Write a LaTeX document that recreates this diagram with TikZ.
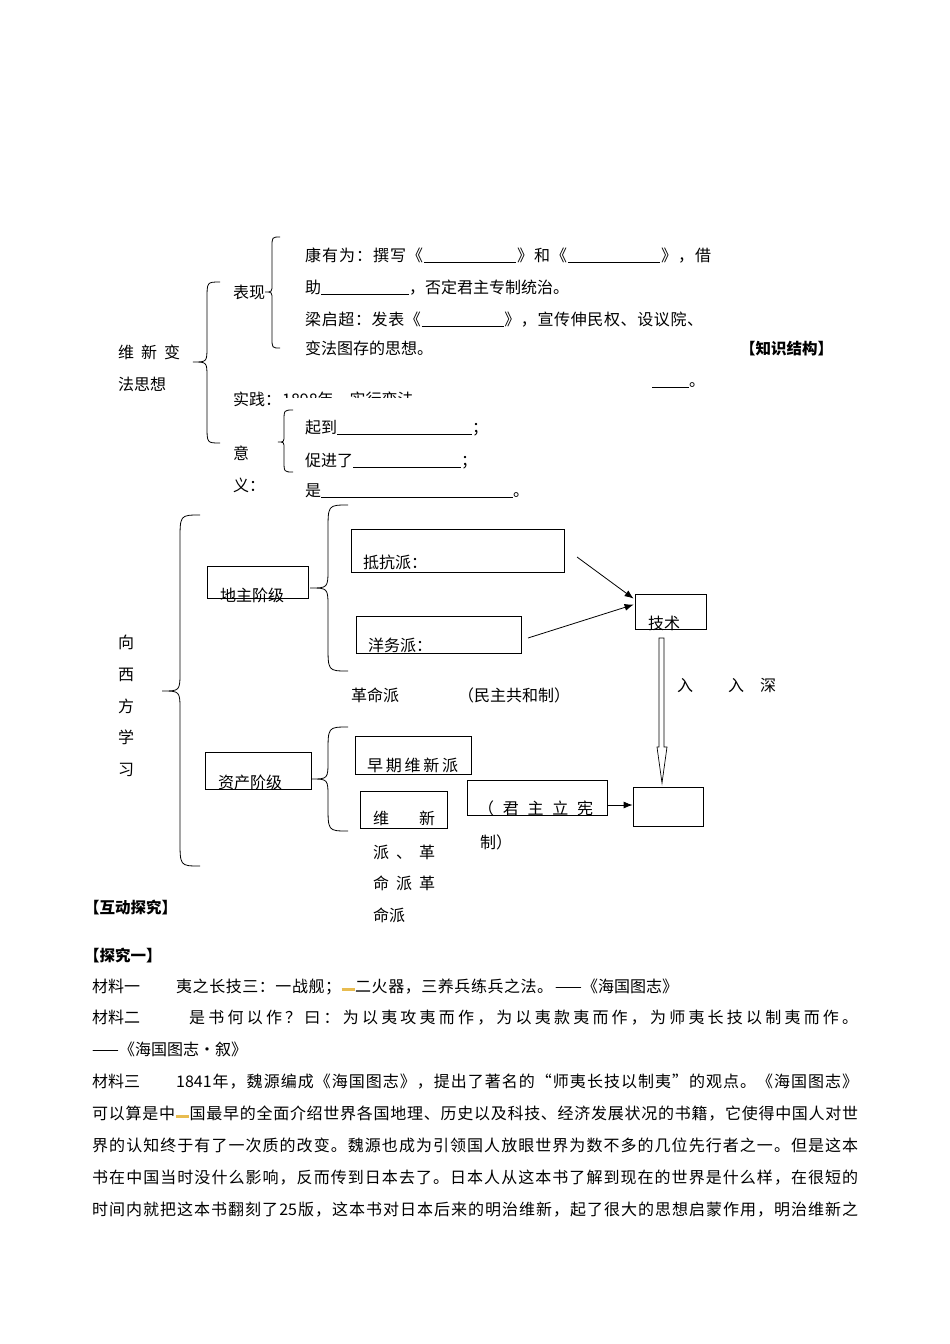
\documentclass[tikz,border=0pt]{standalone}
\usepackage{fontspec}
\setmainfont{Noto Sans CJK SC}
\usetikzlibrary{arrows.meta,calc}
\definecolor{markyellow}{RGB}{232,188,80}
\makeatletter
\newcommand\spreadline[2]{\hbox to #1{\@tfor\sprtok:=#2\do{\sprtok\hfill}\unskip}}
\makeatother
\newcommand\blank[1]{\rule[-2pt]{#1}{0.6pt}}
\newcommand\ymark{\textcolor{markyellow}{\rule[1.5pt]{13pt}{2.5pt}}}
\newcommand\mybrace[6]{% end x, spine x, tip x, top y, tip y, bottom y
  \draw[bracel] (#1,#4) .. controls (#2,#4) .. ($(#2,#4)+(0,{1.3*(#1-#2)})$)
    -- ($(#2,#5)-(0,{1.1*(#2-#3)})$) .. controls (#2,#5) .. (#3,#5)
    .. controls (#2,#5) .. ($(#2,#5)+(0,{1.1*(#2-#3)})$)
    -- ($(#2,#6)-(0,{1.3*(#1-#2)})$) .. controls (#2,#6) .. (#1,#6);}
\begin{document}
\begin{tikzpicture}[x=1pt,y=-1pt,
  font=\fontsize{16pt}{20pt}\selectfont,
  txt/.style={anchor=base west,inner sep=0pt},
  bold/.style={anchor=base west,inner sep=0pt,font=\fontsize{15.5pt}{18pt}\selectfont\bfseries},
  box/.style={draw,line width=0.8pt,inner sep=0pt},
  bracel/.style={line width=0.8pt},
  arr/.style={line width=0.8pt,-{Latex[length=9pt,width=7pt]}}]
\useasboundingbox (0,0) rectangle (950,1344);

% ---------- 维新变法思想 ----------
\node[txt] (wx1) at (118,358) {\spreadline{62pt}{维新变}};
\node[txt] (wx2) at (118,390) {法思想};
\mybrace{220}{207}{193}{282}{362}{443}
\node[txt] (bx) at (233,298) {表现};
\mybrace{280}{272}{265}{237}{292}{348}
\node[txt] (l1) at (305,261) {\spreadline{406pt}{康有为：撰写《{\blank{92pt}}》和《{\blank{92pt}}》，借}};
\node[txt] (l2) at (305,293) {助\blank{88pt}，否定君主专制统治。};
\node[txt] (l3) at (305,325) {\spreadline{398pt}{梁启超：发表《{\blank{82pt}}》，宣传伸民权、设议院、}};
\node[txt] (l4) at (305,354) {变法图存的思想。};
\node[bold] (zs) at (740,354) {【知识结构】};
\node[txt] (dash) at (652,386) {\blank{37pt}。};
\node[txt] (sj) at (233,405) {实践：};
\begin{scope}
  \clip (275,370) rectangle (440,397);
  \node[txt] (sjt) at (282,405) {1898年，实行变法};
\end{scope}
\node[txt] (yi1) at (233,459) {意};
\node[txt] (yi2) at (233,491) {义：};
\mybrace{293}{284}{278}{410}{442}{472}
\node[txt] (m1) at (305,433) {起到\blank{135pt}；};
\node[txt] (m2) at (305,466) {促进了\blank{108pt}；};
\node[txt] (m3) at (305,496) {是\blank{192pt}。};

% ---------- 向西方学习 ----------
\node[txt] (v1) at (118,648) {向};
\node[txt] (v2) at (118,680) {西};
\node[txt] (v3) at (118,712) {方};
\node[txt] (v4) at (118,743) {学};
\node[txt] (v5) at (118,775) {习};
\mybrace{200}{180}{162}{515}{691}{866}

\node[box,minimum width=101pt,minimum height=32pt] (dz) at (257.5,582) {};
\node[txt] (dzt) at (220,601) {地主阶级};
\mybrace{348}{328}{310}{505}{588}{671}
\node[box,minimum width=213pt,minimum height=43pt] (dk) at (457.5,550.5) {};
\node[txt] (dkt) at (363,568) {抵抗派：};
\node[box,minimum width=165pt,minimum height=37pt] (yw) at (438.5,634.5) {};
\node[txt] (ywt) at (368,651) {洋务派：};
\node[box,minimum width=71pt,minimum height=35pt] (js) at (670.5,611.5) {};
\node[txt] (jst) at (648,629) {技术};
\coordinate (a1s) at (577,557);
\coordinate (a2s) at (528,638);
\draw[arr] (a1s) -- ($(js.north west)+(-1,5)$);
\draw[arr] (a2s) -- ($(js.north west)+(-1,11)$);

\node[txt] (gmp) at (351,701) {革命派};
\node[txt] (mzg) at (458,701) {（民主共和制）};
\node[txt] (r1) at (677,691) {入};
\node[txt] (r2) at (728,691) {入};
\node[txt] (r3) at (760,691) {深};
\draw[line width=0.7pt] (659,638) -- (664,638) -- (664,747) -- (667,747) -- (662,783) -- (657,747) -- (659,747) -- cycle;

\node[box,minimum width=106pt,minimum height=37pt] (zc) at (258,770.5) {};
\node[txt] (zct) at (218,788) {资产阶级};
\mybrace{348}{328}{311}{727}{779}{831}
\node[box,minimum width=116pt,minimum height=38pt] (zq) at (413,755) {};
\node[txt] (zqt) at (367,771) {\spreadline{91pt}{早期维新派}};
\node[box,minimum width=87pt,minimum height=37pt] (wx) at (403.5,809.5) {};
\node[txt] (wxt1) at (373,824) {\spreadline{62pt}{维新}};
\node[txt] (wxt2) at (373,858) {\spreadline{62pt}{派、革}};
\node[txt] (wxt3) at (373,889) {\spreadline{62pt}{命派革}};
\node[txt] (wxt4) at (373,921) {命派};
\node[box,minimum width=140pt,minimum height=35pt] (jz) at (537,797.5) {};
\node[txt] (jzt1) at (478,814) {\spreadline{115pt}{（君主立宪}};
\node[txt] (jzt2) at (480,848) {制）};
\node[box,minimum width=70pt,minimum height=39pt] (bb) at (668,806.5) {};
\coordinate (a3s) at (608,805);
\draw[arr] (a3s) -- (bb.west |- a3s);

% ---------- 互动探究 ----------
\node[bold] (hd) at (84,913) {【互动探究】};
\node[bold] (ty) at (84,961) {【探究一】};
\node[txt] (c1a) at (92,992) {材料一};
\node[txt] (c1b) at (176,992) {\spreadline{377pt}{夷之长技三：一战舰；{\ymark}二火器，三养兵练兵之法。}};
\node[txt] (c1c) at (555,992) {——《海国图志》};
\node[txt] (c2a) at (92,1023) {材料二};
\node[txt] (c2b) at (189,1023) {\spreadline{669pt}{是书何以作？曰：为以夷攻夷而作，为以夷款夷而作，为师夷长技以制夷而作。}};
\node[txt] (c2c) at (92,1055) {——《海国图志•叙》};
\node[txt] (c3a) at (92,1087) {材料三};
\node[txt] (c3b) at (176,1087) {\spreadline{682pt}{{1841}年，魏源编成《海国图志》，提出了著名的“师夷长技以制夷”的观点。《海国图志》}};
\node[txt] (p1) at (92,1119) {\spreadline{766pt}{可以算是中{\ymark}国最早的全面介绍世界各国地理、历史以及科技、经济发展状况的书籍，它使得中国人对世}};
\node[txt] (p2) at (92,1151) {\spreadline{766pt}{界的认知终于有了一次质的改变。魏源也成为引领国人放眼世界为数不多的几位先行者之一。但是这本}};
\node[txt] (p3) at (92,1183) {\spreadline{766pt}{书在中国当时没什么影响，反而传到日本去了。日本人从这本书了解到现在的世界是什么样，在很短的}};
\node[txt] (p4) at (92,1215) {\spreadline{766pt}{时间内就把这本书翻刻了{25}版，这本书对日本后来的明治维新，起了很大的思想启蒙作用，明治维新之}};
\end{tikzpicture}
\end{document}
